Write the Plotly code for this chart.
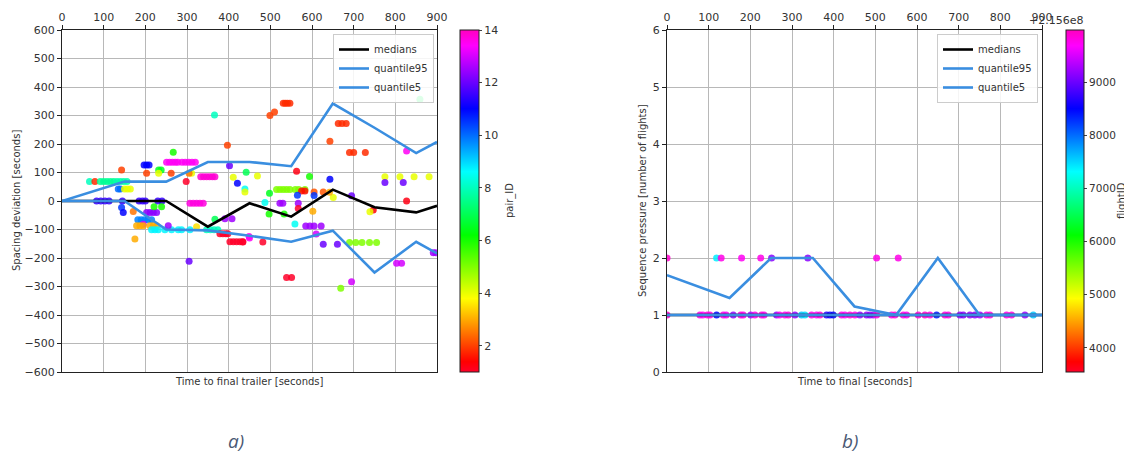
import plotly.graph_objects as go

# the page places the figure 8 px from the window's top-left corner
OFF = 8
W, H = 1132 - OFF, 456 - OFF

# ---------------- data: panel a ----------------
bin_time = [0, 150, 250, 350, 450, 550, 650, 750, 850, 900]
med_a_time = [0, 250, 350, 450, 550, 650, 750, 850, 900]
medians_a = [0, 0, -90, -8, -55, 40, -22, -40, -17]
q95_a = [0, 68, 68, 137, 137, 122, 342, 257, 168, 207]
q5_a = [0, 0, -100, -103, -122, -143, -104, -251, -143, -184]

pair_time = [66, 79, 92, 100, 108, 116, 124, 132, 140, 148, 156,
             143, 135, 140, 150, 157, 164, 197, 203, 209, 203,
             232, 238, 232, 267, 251, 258, 265, 272, 278, 262,
             288, 296, 304, 312, 320, 298, 311, 305,
             333, 340, 347, 354, 361, 367, 366, 397, 402, 411, 421,
             442, 439, 439, 469, 499, 510, 531, 536, 541, 547, 563, 594,
             515, 523, 531, 539, 547, 560, 568, 583, 498, 575, 583,
             605, 627, 643, 651, 565, 605, 642, 695, 487,
             523, 530, 567, 567, 497, 533, 602, 559,
             585, 595, 605, 622, 610, 627, 661,
             690, 705, 720, 738, 755, 747, 739, 827, 827,
             775, 811, 845, 881, 775, 819, 859, 643, 663, 672, 682,
             690, 700, 728, 434, 482, 450, 539, 551, 669, 695, 803, 815, 891, 897,
             83, 93, 103, 113, 145, 185, 193, 200, 230, 240,
             143, 147, 171, 203, 211, 219, 227, 221, 239,
             182, 190, 198, 206, 215, 195,
             179, 187, 195, 211, 219, 227, 175,
             215, 223, 231, 247, 263, 279, 287, 255, 307,
             307, 315, 323, 331, 339, 367, 323,
             347, 356, 365, 374, 379, 386, 393, 398, 391, 408,
             403, 411, 419, 427, 434, 305, 449]
spacing_dev = [68, 68, 68, 68, 68, 68, 68, 68, 68, 68, 68,
               109, 42, 42, 42, 42, 42, 126, 126, 126, 97,
               109, 109, 97, 171, 136, 136, 136, 136, 136, 97,
               136, 136, 136, 136, 136, 68, 97, 97,
               85, 85, 85, 85, 85, 85, 302, 196, 124, 83, 62,
               101, 42, 32, 88, 300, 312, 343, 343, 343, 343, 104, 86,
               40, 40, 40, 40, 40, 40, 40, 40, 27, 35, 35,
               32, 32, 76, 12, 20, 19, 31, 18, -5,
               -8, -8, -8, -26, -46, -46, -36, -81,
               -88, -88, -88, -88, -116, -152, -152,
               -146, -146, -146, -146, -146, -32, -38, 0, 175,
               85, 85, 85, 85, 65, 65, 357, 210, 272, 272, 272,
               170, 170, 170, -144, -144, -130, -268, -268, -306, -283, -218, -218, -182, -182,
               0, 0, 0, 0, 0, 0, 0, 0, 0, 0,
               -23, -40, -37, -40, -40, -40, -40, -20, -20,
               -66, -66, -66, -66, -66, -82,
               -87, -87, -87, -87, -87, -87, -133,
               -101, -101, -101, -101, -101, -101, -101, -87, -101,
               -8, -8, -8, -8, -8, -64, -90,
               -101, -101, -101, -101, -115, -115, -115, -115, -62, -62,
               -143, -143, -143, -143, -143, -211, -125]
pair_id = [8, 1.8, 7.6, 7.6, 7.6, 7.6, 7.6, 7.8, 7.8, 7.8, 7.8,
           2, 10, 10, 4, 4, 4, 11, 11, 11, 2,
           6.5, 6.5, 4, 6, 13.5, 13.5, 13.5, 13.5, 13.5, 2,
           13.5, 13.5, 13.5, 13.5, 13.5, 1, 4, 2.5,
           13.8, 13.8, 13.8, 13.8, 13.8, 13.8, 8, 2, 12, 4, 11,
           7, 8.5, 4, 4, 2, 2, 1.8, 1.8, 1.8, 1.8, 1.2, 6,
           5, 5, 5, 5, 5, 5, 5, 5, 6.5, 1.5, 1.5,
           2.2, 2.2, 11, 4, 10.5, 10.5, 3, 12, 8.5,
           12.5, 12.5, 12.5, 1, 6, 6, 3, 8.5,
           12.5, 12.5, 12.5, 12.5, 13, 12, 12,
           5, 5, 5, 5, 5, 1.3, 4, 1.2, 13.5,
           4, 4, 4, 4, 12, 12, 7, 2, 1.8, 1.8, 1.8,
           1.8, 1.8, 1.8, 1, 1, 13.5, 1, 1, 5, 13, 13, 13, 12.5, 12.5,
           11.5, 11.5, 11.5, 11.5, 11.5, 11.5, 11.5, 11.5, 11.5, 11.5,
           10.5, 11, 2.5, 12.3, 12.3, 12.3, 12.3, 6, 6,
           9.8, 9.8, 9.8, 9.8, 9.8, 13,
           3, 3, 3, 3, 3, 3, 3,
           8.7, 8.7, 8.7, 8.7, 8.7, 8.7, 8.7, 12.5, 8.7,
           13.7, 13.7, 13.7, 13.7, 13.7, 7, 3.5,
           8, 8, 8, 8, 1, 1, 1, 1, 12.5, 12.5,
           1, 1, 1, 1, 1, 12, 13.5]

# ---------------- data: panel b ----------------
medians_b = [1, 1, 1, 1, 1, 1, 1, 1, 1, 1]
q95_b = [1.7, 1.3, 2.0, 2.0, 1.15, 1.0, 2.0, 1.0, 1.0, 1.0]
q5_b = [1, 1, 1, 1, 1, 1, 1, 1, 1, 1]

press_time = [0, 119, 130, 179, 225, 251, 338, 503, 555,
              0, 79, 86, 97, 103, 119, 135, 142, 159, 177, 183, 201, 211, 227, 233,
              263, 270, 283, 291, 307, 323, 331, 347, 359, 367, 383, 391, 399,
              419, 427, 439, 451, 463, 479, 487, 495, 503,
              539, 547, 567, 575, 603, 619, 631, 647, 667, 675, 703, 711,
              727, 739, 751, 767, 775, 815, 827, 859, 879]
press_val = [2, 2, 2, 2, 2, 2, 2, 2, 2,
             1, 1, 1, 1, 1, 1, 1, 1, 1, 1, 1, 1, 1, 1, 1,
             1, 1, 1, 1, 1, 1, 1, 1, 1, 1, 1, 1, 1,
             1, 1, 1, 1, 1, 1, 1, 1, 1,
             1, 1, 1, 1, 1, 1, 1, 1, 1, 1, 1, 1,
             1, 1, 1, 1, 1, 1, 1, 1, 1]
flight_id = [9930, 7400, 9800, 9750, 9800, 9150, 9150, 9800, 9800,
             9930, 9800, 9750, 9850, 9800, 8500, 9800, 9750, 9200, 9850, 9800, 9300, 9800, 9850, 9800,
             9200, 9750, 9800, 9850, 9200, 7600, 7500, 9800, 9750, 9850, 8700, 8600, 8500,
             9800, 9750, 9850, 9800, 9200, 9200, 9150, 9250, 9800,
             9800, 9850, 9800, 9750, 9850, 9930, 9800, 8400, 9850, 9800, 9200, 9150,
             9200, 9150, 9250, 9800, 9850, 9800, 9850, 9200, 7600]
flight_offset_label = "+2.156e8"

# gist_rainbow colormap
gist_rainbow = [
    [0.000, "rgb(255,0,41)"],
    [0.030, "rgb(255,0,0)"],
    [0.215, "rgb(255,255,0)"],
    [0.400, "rgb(0,255,0)"],
    [0.586, "rgb(0,255,255)"],
    [0.770, "rgb(0,0,255)"],
    [0.954, "rgb(255,0,255)"],
    [1.000, "rgb(255,0,191)"],
]

BLUE = "#3a8ee0"
FONT = "DejaVu Sans"


def px_x(p):
    return (p - OFF) / W


def px_y(p):
    return 1 - (p - OFF) / H


fig = go.Figure()

# panel a scatter
fig.add_trace(go.Scatter(
    x=pair_time, y=spacing_dev, mode="markers", showlegend=False,
    marker=dict(size=7, color=pair_id, colorscale=gist_rainbow, cmin=1, cmax=14,
                opacity=0.85, line=dict(width=0),
                colorbar=dict(x=px_x(460), xanchor="left", y=px_y(372), yanchor="bottom",
                              len=342 / H, lenmode="fraction", thickness=19, thicknessmode="pixels",
                              xpad=0, ypad=0,
                              tickvals=[2, 4, 6, 8, 10, 12, 14], ticks="outside", ticklen=3,
                              outlinecolor="#222", outlinewidth=1,
                              tickfont=dict(family=FONT, size=11, color="#333"))),
    xaxis="x", yaxis="y"))

fig.add_trace(go.Scatter(x=med_a_time, y=medians_a, mode="lines", name="medians",
                         line=dict(color="black", width=2.6), legend="legend",
                         xaxis="x", yaxis="y"))
fig.add_trace(go.Scatter(x=bin_time, y=q95_a, mode="lines", name="quantile95",
                         line=dict(color=BLUE, width=2.6), legend="legend",
                         xaxis="x", yaxis="y"))
fig.add_trace(go.Scatter(x=bin_time, y=q5_a, mode="lines", name="quantile5",
                         line=dict(color=BLUE, width=2.6), legend="legend",
                         xaxis="x", yaxis="y"))

# panel b scatter
fig.add_trace(go.Scatter(
    x=press_time, y=press_val, mode="markers", showlegend=False,
    marker=dict(size=7, color=flight_id, colorscale=gist_rainbow, cmin=3545, cmax=9990,
                opacity=0.85, line=dict(width=0),
                colorbar=dict(x=px_x(1066), xanchor="left", y=px_y(372), yanchor="bottom",
                              len=342 / H, lenmode="fraction", thickness=18, thicknessmode="pixels",
                              xpad=0, ypad=0,
                              tickvals=[4000, 5000, 6000, 7000, 8000, 9000], ticks="outside", ticklen=3,
                              outlinecolor="#222", outlinewidth=1,
                              tickfont=dict(family=FONT, size=10.5, color="#333"))),
    xaxis="x2", yaxis="y2"))

fig.add_trace(go.Scatter(x=bin_time, y=medians_b, mode="lines", name="medians",
                         line=dict(color="black", width=2.6), legend="legend2",
                         xaxis="x2", yaxis="y2"))
fig.add_trace(go.Scatter(x=bin_time, y=q95_b, mode="lines", name="quantile95",
                         line=dict(color=BLUE, width=2.6), legend="legend2",
                         xaxis="x2", yaxis="y2"))
fig.add_trace(go.Scatter(x=bin_time, y=q5_b, mode="lines", name="quantile5",
                         line=dict(color=BLUE, width=2.6), legend="legend2",
                         xaxis="x2", yaxis="y2"))

axis_common = dict(showgrid=True, gridcolor="#b8b8b8", gridwidth=1, zeroline=False,
                   showline=True, linecolor="#222", linewidth=1, mirror=True,
                   ticks="outside", ticklen=4, tickcolor="#222", automargin=False,
                   tickfont=dict(family=FONT, size=11, color="#333"))

legend_common = dict(xanchor="right", yanchor="top",
                     bgcolor="rgba(255,255,255,0.85)", bordercolor="#cccccc", borderwidth=1,
                     font=dict(family=FONT, size=10, color="#333"), tracegroupgap=0,
                     itemwidth=30)

fig.update_layout(
    width=W, height=H, margin=dict(l=0, r=0, t=0, b=0, autoexpand=False),
    paper_bgcolor="white", plot_bgcolor="white",
    font=dict(family=FONT, color="#333"),
    xaxis=dict(domain=[px_x(62), px_x(437)], range=[0, 900], dtick=100, side="top",
               anchor="y", **axis_common),
    yaxis=dict(domain=[px_y(372), px_y(30)], range=[-600, 600], dtick=100,
               anchor="x", **axis_common),
    xaxis2=dict(domain=[px_x(667), px_x(1042)], range=[0, 900], dtick=100, side="top",
                anchor="y2", **axis_common),
    yaxis2=dict(domain=[px_y(372), px_y(30)], range=[0, 6], dtick=1,
                anchor="x2", **axis_common),
    legend=dict(x=px_x(434), y=px_y(34), **legend_common),
    legend2=dict(x=px_x(1038), y=px_y(34), **legend_common),
)

ann_font = dict(family=FONT, size=10, color="#333")
annotations = [
    dict(x=px_x(249.5), y=px_y(381), text="Time to final trailer [seconds]", showarrow=False,
         xref="paper", yref="paper", xanchor="center", yanchor="middle", font=ann_font),
    dict(x=px_x(854.5), y=px_y(381), text="Time to final [seconds]", showarrow=False,
         xref="paper", yref="paper", xanchor="center", yanchor="middle", font=ann_font),
    dict(x=px_x(16), y=px_y(201), text="Spacing deviation [seconds]", showarrow=False,
         textangle=-90, xref="paper", yref="paper", xanchor="center", yanchor="middle", font=ann_font),
    dict(x=px_x(642), y=px_y(201), text="Sequence pressure [number of flights]", showarrow=False,
         textangle=-90, xref="paper", yref="paper", xanchor="center", yanchor="middle", font=ann_font),
    dict(x=px_x(510), y=px_y(201), text="pair_ID", showarrow=False,
         textangle=-90, xref="paper", yref="paper", xanchor="center", yanchor="middle", font=ann_font),
    dict(x=px_x(1121), y=px_y(201), text="flightID", showarrow=False,
         textangle=-90, xref="paper", yref="paper", xanchor="center", yanchor="middle",
         font=ann_font, borderpad=0),
    dict(x=px_x(1085), y=px_y(21), text=flight_offset_label, showarrow=False,
         xref="paper", yref="paper", xanchor="right", yanchor="middle",
         font=dict(family=FONT, size=11, color="#333")),
    dict(x=px_x(236), y=px_y(441), text="<i>a)</i>", showarrow=False,
         xref="paper", yref="paper", xanchor="center", yanchor="middle",
         font=dict(family="Open Sans", size=19, color="#4a5873")),
    dict(x=px_x(850), y=px_y(441), text="<i>b)</i>", showarrow=False,
         xref="paper", yref="paper", xanchor="center", yanchor="middle",
         font=dict(family="Open Sans", size=19, color="#4a5873")),
]
fig.update_layout(annotations=annotations)

fig.write_html("out.html")
